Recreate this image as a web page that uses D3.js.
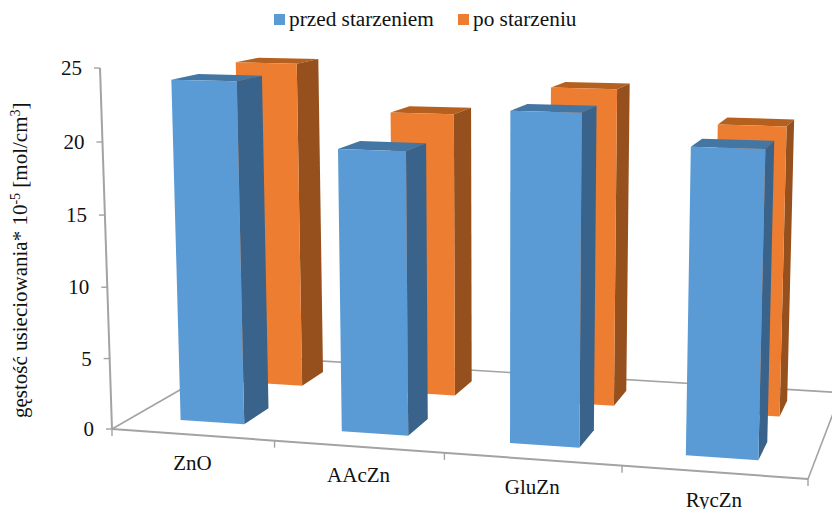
<!DOCTYPE html>
<html>
<head>
<meta charset="utf-8">
<script src="https://cdn.jsdelivr.net/npm/d3@7"></script>
<style>
  body { margin: 0; background: #fff; }
  svg { display: block; }
  text { font-family: "Liberation Serif", serif; fill: #111; }
</style>
</head>
<body>
<div id="root"></div>
<script>
var categories = ['ZnO', 'AAcZn', 'GluZn', 'RycZn'];
var seriesNames = ['przed starzeniem', 'po starzeniu'];
var beforeAging = [24.0, 19.6, 22.5, 20.5];
var afterAging = [24.3, 20.9, 23.0, 20.7];
var yTicks = [0, 5, 10, 15, 20, 25];

var width = 832;
var height = 509;

var svg = d3.select('#root')
  .append('svg')
    .attr('width', width)
    .attr('height', height);

// floor corners on screen: front left, front right, back left, back right
var floor = { p00: [112, 429], p10: [808, 479], p01: [239, 356], p11: [841, 392.7] };

// unit square -> floor homography
var dx1 = floor.p10[0] - floor.p11[0];
var dx2 = floor.p01[0] - floor.p11[0];
var sx = floor.p00[0] - floor.p10[0] + floor.p11[0] - floor.p01[0];
var dy1 = floor.p10[1] - floor.p11[1];
var dy2 = floor.p01[1] - floor.p11[1];
var sy = floor.p00[1] - floor.p10[1] + floor.p11[1] - floor.p01[1];
var den = dx1 * dy2 - dx2 * dy1;
var g = (sx * dy2 - dx2 * sy) / den;
var h = (dx1 * sy - sx * dy1) / den;

// verticals converge on a point far below the chart
var vanish = [498, 12056];
var lift = d3.scaleLinear().domain([0, 25]).range([0, -0.03011]);

var xFloor = d3.scaleLinear().domain([0, categories.length]).range([0, 1]);

var project = (x, z, v) => {
  var u = xFloor(x);
  var w = g * u + h * z + 1;
  var px = (floor.p10[0] - floor.p00[0] + g * floor.p10[0]) * u + (floor.p01[0] - floor.p00[0] + h * floor.p01[0]) * z + floor.p00[0];
  var py = (floor.p10[1] - floor.p00[1] + g * floor.p10[1]) * u + (floor.p01[1] - floor.p00[1] + h * floor.p01[1]) * z + floor.p00[1];
  var t = lift(v);
  return [(px + t * vanish[0]) / (w + t), (py + t * vanish[1]) / (w + t)];
};

/*
 * category band runs along the front axis, series band runs into the depth
 * both leave a gap of 150% of the bar
**/
var xBand = d3.scaleBand()
  .domain(categories)
  .range([0, categories.length])
  .paddingInner(0.6)
  .paddingOuter(0.3);

var zBand = d3.scaleBand()
  .domain(seriesNames)
  .range([0, 1])
  .paddingInner(0.6)
  .paddingOuter(0.3);

var colors = d3.scaleOrdinal().domain(seriesNames).range(['#5b9bd5', '#ed7d31']);
var topColors = d3.scaleOrdinal().domain(seriesNames).range(['#4376a3', '#b5601f']);
var sideColors = d3.scaleOrdinal().domain(seriesNames).range(['#39638b', '#95501d']);

var polygon = d3.line();
var axisColor = '#a3a3a3';

var drawLine = (a, b, w) => {
  svg.append('line')
    .attr('x1', a[0]).attr('y1', a[1])
    .attr('x2', b[0]).attr('y2', b[1])
    .attr('stroke', axisColor)
    .attr('stroke-width', w);
};

// floor edges
drawLine(project(0, 0, 0), project(0, 1, 0), 1.6);
drawLine(project(0, 1, 0), project(4, 1, 0), 1.6);
drawLine(project(4, 1, 0), project(4, 0, 0), 1.6);
drawLine(project(0, 0, 0), project(4, 0, 0), 2);
drawLine(project(0, 0, 0), project(0, 0, 25), 2);

yTicks.forEach(v => {
  var p = project(0, 0, v);
  drawLine([p[0] - 6, p[1]], p, 1.4);
  svg.append('text')
    .attr('x', p[0] - 18)
    .attr('y', p[1] + 7)
    .attr('text-anchor', 'end')
    .attr('font-size', 21)
    .text(v);
});

d3.range(categories.length + 1).forEach(i => {
  var p = project(i, 0, 0);
  drawLine(p, [p[0], p[1] + 7], 1.4);
});

categories.forEach((c, i) => {
  var p = project(i + 0.5, 0, 0);
  svg.append('text')
    .attr('x', p[0])
    .attr('y', p[1] + 35)
    .attr('text-anchor', 'middle')
    .attr('font-size', 21)
    .text(c);
});

// back series first so the front bars cover it
var values = { 'przed starzeniem': beforeAging, 'po starzeniu': afterAging };

seriesNames.slice().reverse().forEach(s => {
  var bars = svg.append('g')
    .selectAll('g')
    .data(categories.map((c, i) => ({ cat: c, value: values[s][i] })))
    .enter()
    .append('g');

  var x0 = d => xBand(d.cat);
  var x1 = d => xBand(d.cat) + xBand.bandwidth();
  var z0 = zBand(s);
  var z1 = z0 + zBand.bandwidth();

  bars.append('path')
    .attr('fill', topColors(s))
    .attr('d', d => polygon([
      project(x0(d), z0, d.value), project(x1(d), z0, d.value),
      project(x1(d), z1, d.value), project(x0(d), z1, d.value)
    ]) + 'Z');

  bars.append('path')
    .attr('fill', sideColors(s))
    .attr('d', d => polygon([
      project(x1(d), z0, 0), project(x1(d), z1, 0),
      project(x1(d), z1, d.value), project(x1(d), z0, d.value)
    ]) + 'Z');

  bars.append('path')
    .attr('fill', colors(s))
    .attr('d', d => polygon([
      project(x0(d), z0, 0), project(x1(d), z0, 0),
      project(x1(d), z0, d.value), project(x0(d), z0, d.value)
    ]) + 'Z');
});

// legend
var legendX = [274, 458];
seriesNames.forEach((s, i) => {
  svg.append('rect')
    .attr('x', legendX[i])
    .attr('y', 14)
    .attr('width', 11)
    .attr('height', 11)
    .attr('fill', colors(s));
  svg.append('text')
    .attr('x', legendX[i] + 15)
    .attr('y', 26)
    .attr('font-size', 21.3)
    .text(s);
});

// y axis title with superscripts
var title = svg.append('text')
  .attr('transform', 'translate(27,418) rotate(-90)')
  .attr('font-size', 21);
title.append('tspan').text('gęstość usieciowania* 10');
title.append('tspan').attr('dy', -7).attr('font-size', 14).text('-5');
title.append('tspan').attr('dy', 7).text(' [mol/cm');
title.append('tspan').attr('dy', -7).attr('font-size', 14).text('3');
title.append('tspan').attr('dy', 7).text(']');
</script>
</body>
</html>
